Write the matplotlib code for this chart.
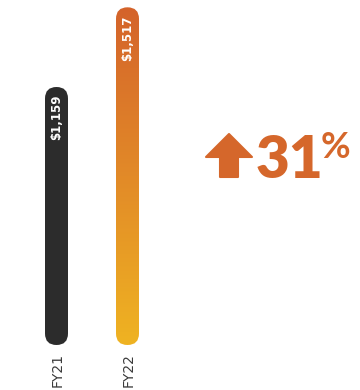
import numpy as np
import matplotlib.pyplot as plt
from matplotlib.patches import FancyBboxPatch, Polygon
from matplotlib.colors import LinearSegmentedColormap

# revenue by fiscal year ($M)
years = ['FY21', 'FY22']
revenue = [1159, 1517]
label_txt = ['$1,159', '$1,517']

orange = '#d5672b'
dark = '#2c2c2c'
grad = LinearSegmentedColormap.from_list('fy22', ['#efb322', '#e28a28', '#d4632b'])

W, H = 360, 390
fig = plt.figure(figsize=(W / 100, H / 100), dpi=100)

# bar area: bottom of the bars sits 45px above the figure edge
ax = fig.add_axes([0, 45 / H, 180 / W, 345 / H])
px_per_dollar = 258 / 1159
ymax = 345 / px_per_dollar
x_unit = 71.0  # px between categories
ax.set_xlim(-56.5 / x_unit, (180 - 56.5) / x_unit)
ax.set_ylim(0, ymax)
ax.axis('off')

bar_w = 23 / x_unit
aspect = (1 / px_per_dollar) / (1 / x_unit)
r = bar_w / 2

for i, (yr, v, lab) in enumerate(zip(years, revenue, label_txt)):
    patch = FancyBboxPatch((i - bar_w / 2, 0), bar_w, v,
                           boxstyle=f'round,pad=0,rounding_size={r}',
                           mutation_aspect=aspect, lw=0,
                           facecolor=dark if i == 0 else 'none')
    ax.add_patch(patch)
    if i == 1:
        g = np.linspace(0, 1, 256).reshape(-1, 1)
        im = ax.imshow(g, cmap=grad, origin='lower', aspect='auto',
                       extent=(i - bar_w / 2, i + bar_w / 2, 0, v))
        im.set_clip_path(patch)
    ax.annotate(lab, (i, v), xytext=(0, -8), textcoords='offset pixels',
                rotation=90, ha='center', va='top', color='white',
                fontsize=8.5, fontweight='bold')
    ax.annotate(yr, (i, 0), xytext=(1, -8), textcoords='offset pixels',
                rotation=90, ha='center', va='top', color='#3a3a3a',
                fontsize=10, annotation_clip=False)

# growth callout
pct = round((revenue[1] - revenue[0]) / revenue[0] * 100)
ov = fig.add_axes([0, 0, 1, 1], facecolor='none')
ov.set_xlim(0, W)
ov.set_ylim(H, 0)
ov.axis('off')
arrow = Polygon([(229, 134), (252, 157), (238, 157), (238, 177),
                 (220, 177), (220, 157), (206, 157)],
                closed=True, facecolor=orange, edgecolor=orange,
                lw=1.5, joinstyle='round')
ov.add_patch(arrow)
ov.text(256, 178, f'{pct}', color=orange, fontsize=42, fontweight='heavy',
        family='Lato', ha='left', va='baseline')
ov.text(321, 131, '%', color=orange, fontsize=26, fontweight='bold',
        family='Lato', ha='left', va='top')

fig.savefig('out.png', dpi=100)
